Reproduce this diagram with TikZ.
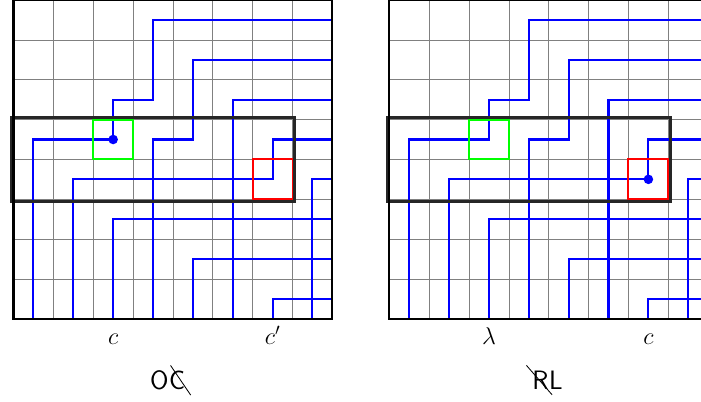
\documentclass[tikz,border=0pt]{standalone}
\usepackage{fontspec}
\usepackage{tikz}
\usetikzlibrary{calc}

\begin{document}
\begin{tikzpicture}[
    gridline/.style={black!50, line width=0.5pt},
    wire/.style={blue, line width=1.5pt},
    frame/.style={black, line width=1.6pt},
    band/.style={black!85, line width=1.8pt},
    hit/.style={green, line width=1.4pt},
    miss/.style={red, line width=1.4pt},
    letter/.style={font=\LARGE, inner sep=0pt, anchor=base},
    tag/.style={font=\fontsize{19}{23}\selectfont\sffamily, inner sep=0pt},
    strike/.style={black, line width=0.6pt}]
  \useasboundingbox (-0.339,-2.075) rectangle (17.25,8);

  % Both panels: grid, wires, marked cells and the band
  \foreach \ox/\dx/\dy in {0/2.5/4.5, 9.43/6.5/3.5} {
    \begin{scope}[xshift=\ox cm]
      \draw[gridline] (0,0) grid (8,8);
      \draw[wire] (8,7.5) -| (3.5,5.5) -| (2.5,4.5) -| (0.5,0);
      \draw[wire] (8,6.5) -| (4.5,4.5) -| (3.5,0);
      \draw[wire] (8,4.5) -| (6.5,3.5) -| (1.5,0);
      \foreach \y/\x in {5.5/5.5, 3.5/7.5, 2.5/2.5, 1.5/4.5, 0.5/6.5}
        \draw[wire] (8,\y) -| (\x,0);
      \draw[hit] (2,4) rectangle (3,5);
      \draw[miss] (6,3) rectangle (7,4);
      \draw[band] (-0.05,2.95) rectangle (7.05,5.05);
      \draw[frame] (0,0) rectangle (8,8);
      \fill[blue] (\dx,\dy) circle (0.12);
    \end{scope}
  }

  % Column labels
  \node[letter] (cleft) at (2.5,-0.645) {$c$};
  \node[letter] (cprime) at (6.5,-0.645) {$c'$};
  \node[letter] (lam) at (11.93,-0.645) {$\lambda$};
  \node[letter] (cright) at (15.93,-0.645) {$c$};

  % Panel names, one letter struck out
  \node[tag, anchor=base east] (ocO) at (3.9,-1.77) {O};
  \node[tag, anchor=base west] (ocC) at (ocO.base east) {C};
  \draw[strike] ($(ocC.north west)+(0.04,0.13)$) -- ($(ocC.south east)+(0.13,-0.13)$);
  \node[tag, anchor=base east] (rlR) at (13.43,-1.77) {R};
  \node[tag, anchor=base west] (rlL) at (rlR.base east) {L};
  \draw[strike] ($(rlR.north west)+(-0.14,0.13)$) -- ($(rlR.south east)+(0.085,-0.13)$);
\end{tikzpicture}
\end{document}
